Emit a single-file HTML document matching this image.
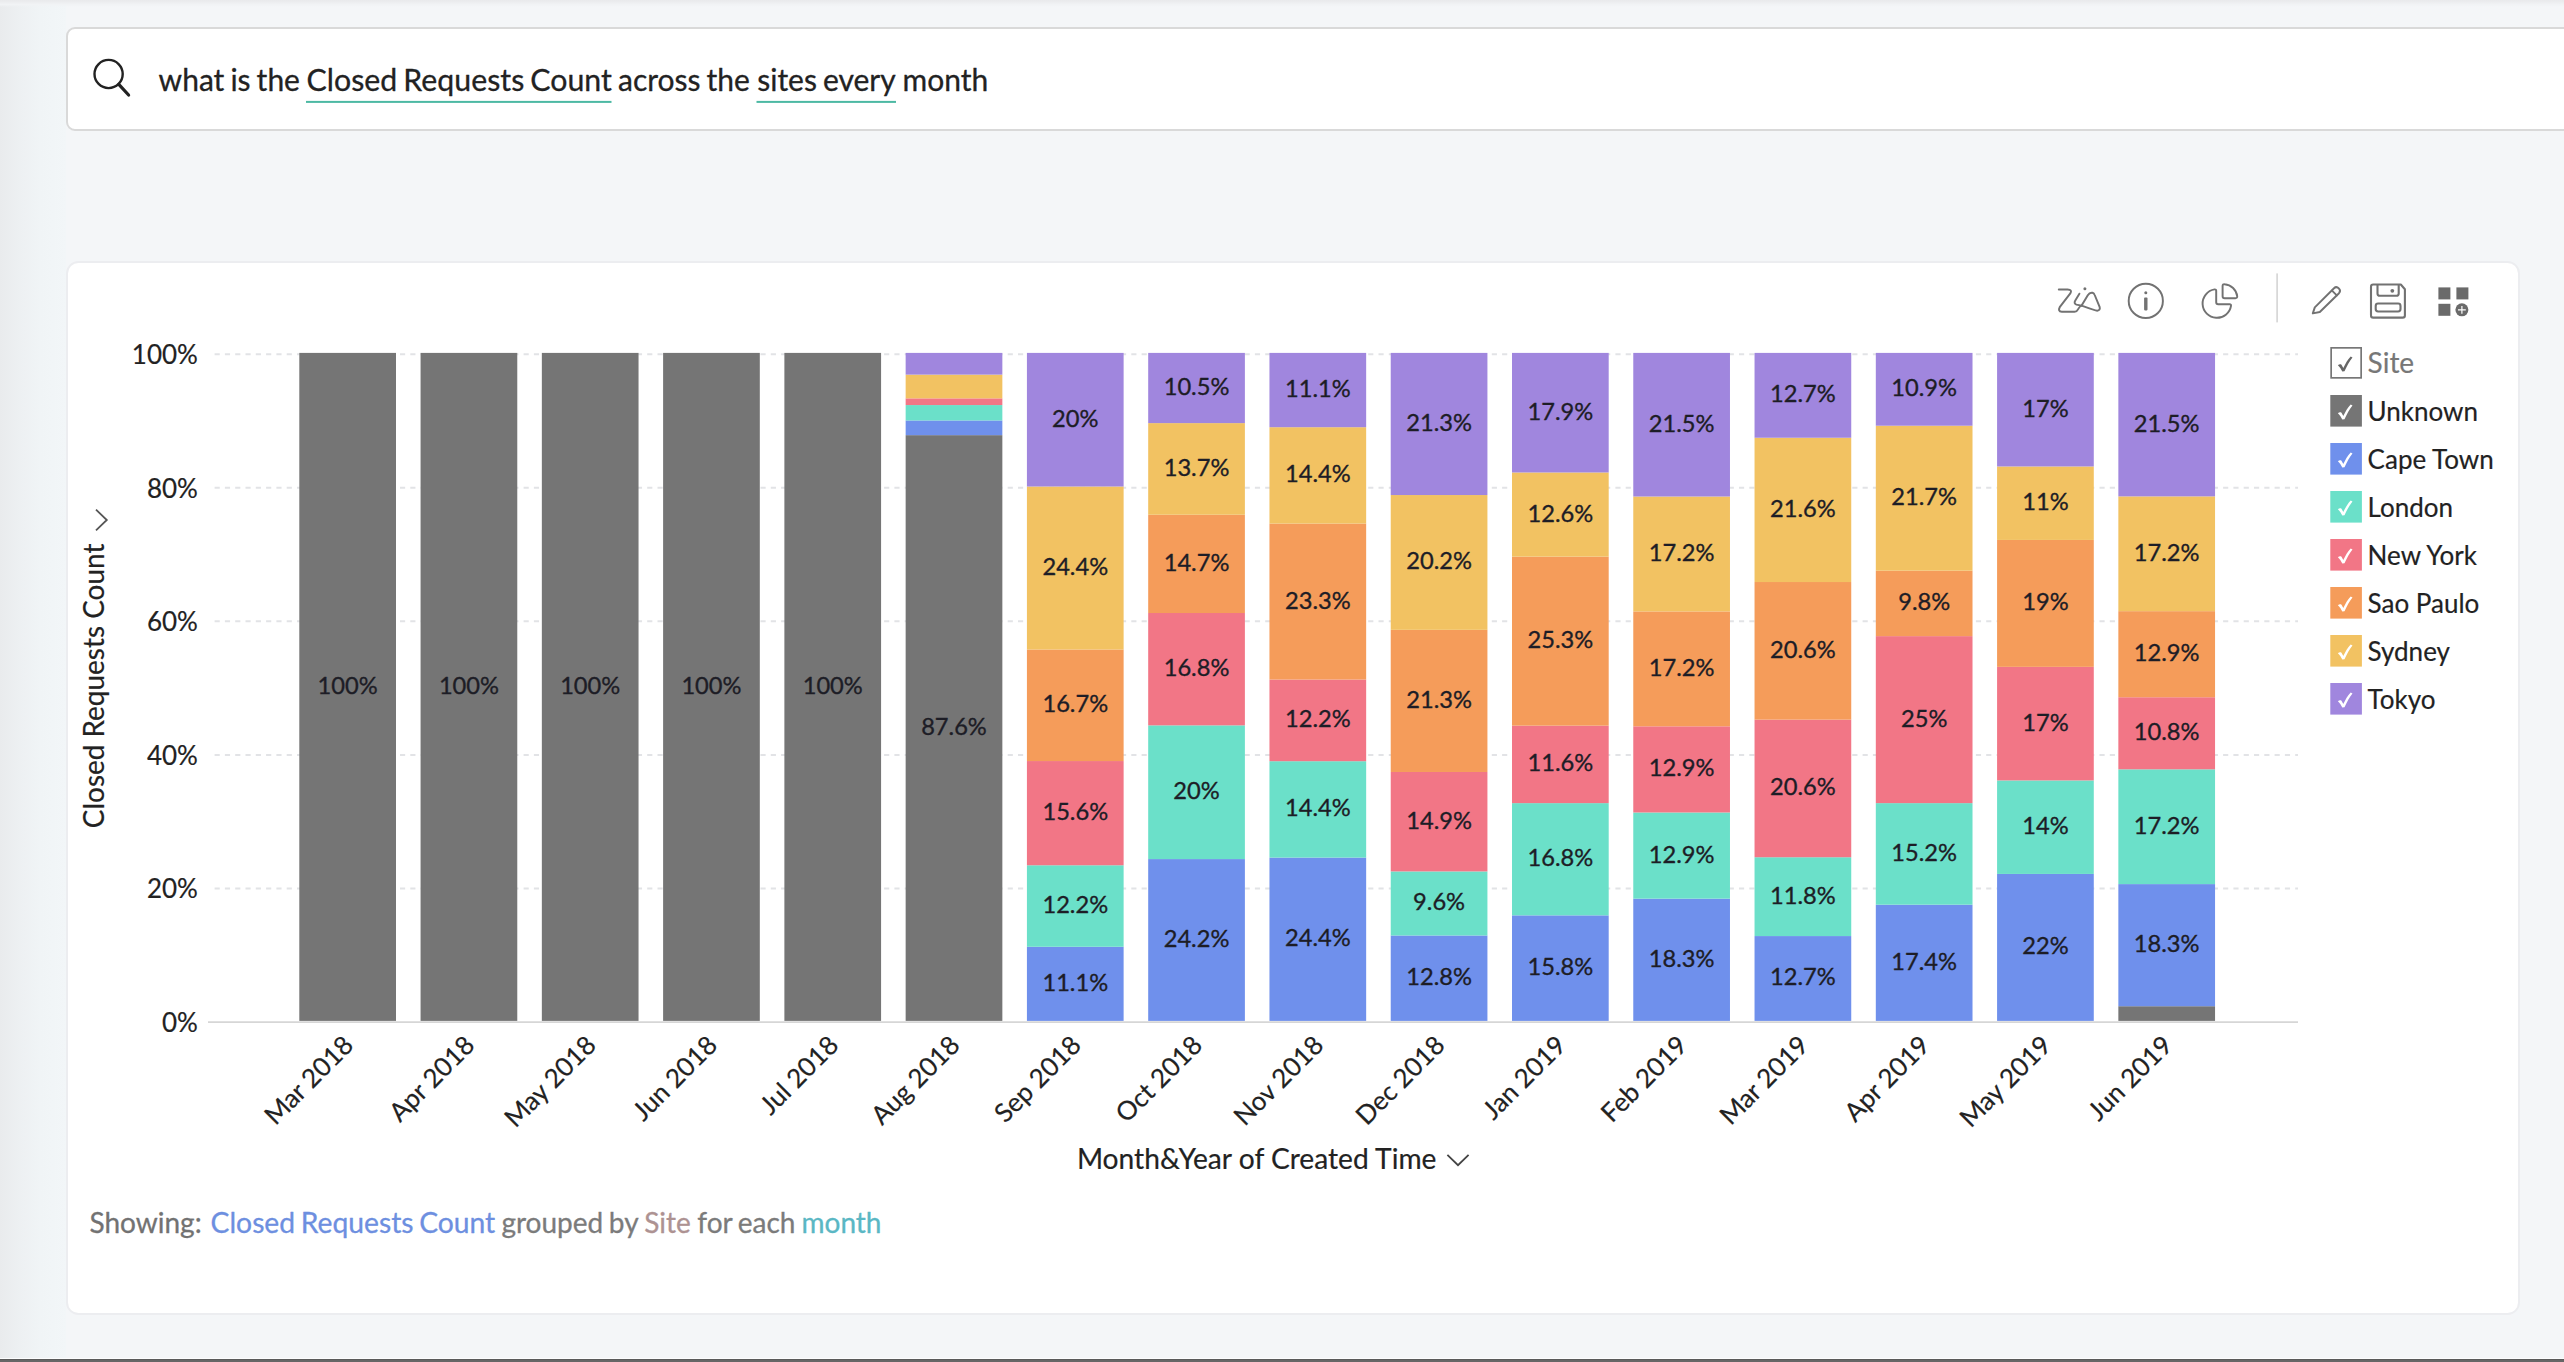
<!DOCTYPE html>
<html lang="en">
<head>
<meta charset="utf-8">
<title>Closed Requests Count across the sites every month</title>
<style>
html,body{margin:0;padding:0}
body{width:2564px;height:1362px;overflow:hidden;position:relative;background:#f4f6f8;font-family:Lato, "Liberation Sans", sans-serif}
.shade-left{position:absolute;left:0;top:0;width:66px;height:1358px;background:linear-gradient(90deg,#e9ebed 0px,#edf0f2 20px,#f0f4f6 40px,#f2f6f8 66px)}
.shade-top{position:absolute;left:0;top:0;width:2564px;height:7px;background:linear-gradient(180deg,#e9eaec 0px,#ecedef 2px,#f1f3f5 4.5px,rgba(244,246,248,0) 7px)}
.search{position:absolute;left:65.6px;top:27px;width:2600px;height:100px;background:#fff;border:2px solid #d9d9d9;border-radius:9px}
.card{position:absolute;left:65.8px;top:261px;width:2454.2px;height:1054px;background:#fff;border:2px solid #ecedf0;border-radius:12.5px;box-sizing:border-box}
.bottom{position:absolute;left:0;top:1357.7px;width:2564px;height:1.3px;background:#fdfdfe}
.bottom2{position:absolute;left:0;top:1359px;width:2564px;height:3px;background:linear-gradient(180deg,#5a5a5a 0px,#5a5a5a 1px,#666 1px,#666 3px)}
svg{position:absolute;left:0;top:0}
svg text{font-family:Lato, "Liberation Sans", sans-serif;white-space:pre;stroke-width:0.18px;stroke-linejoin:round}
svg text.dl{stroke-width:0.35px}
svg text.ht{word-spacing:-0.055em;stroke-width:0.3px}
</style>
</head>
<body>
<div class="shade-left"></div>
<div class="shade-top"></div>
<div class="search"></div>
<div class="card"></div>
<svg width="2564" height="1362" viewBox="0 0 2564 1362">
<g class="chart" role="img" aria-label="Closed Requests Count by Site for each month (100% stacked bar)">
<g stroke="#e2e3e6" stroke-width="2" stroke-dasharray="5.15 5.15" fill="none">
<line x1="214.6" y1="888.44" x2="2298" y2="888.44"/>
<line x1="214.6" y1="754.88" x2="2298" y2="754.88"/>
<line x1="214.6" y1="621.32" x2="2298" y2="621.32"/>
<line x1="214.6" y1="487.76" x2="2298" y2="487.76"/>
<line x1="214.6" y1="354.20" x2="2298" y2="354.20"/>
</g>
<g shape-rendering="auto">
<rect x="299.30" y="352.90" width="96.70" height="668.00" fill="#757575"/>
<rect x="420.57" y="352.90" width="96.70" height="668.00" fill="#757575"/>
<rect x="541.84" y="352.90" width="96.70" height="668.00" fill="#757575"/>
<rect x="663.11" y="352.90" width="96.70" height="668.00" fill="#757575"/>
<rect x="784.38" y="352.90" width="96.70" height="668.00" fill="#757575"/>
<rect x="905.65" y="435.15" width="96.70" height="585.75" fill="#757575"/>
<rect x="905.65" y="420.44" width="96.70" height="14.71" fill="#6f90ec"/>
<rect x="905.65" y="405.06" width="96.70" height="15.38" fill="#6be0c9"/>
<rect x="905.65" y="398.37" width="96.70" height="6.69" fill="#f27686"/>
<rect x="905.65" y="374.63" width="96.70" height="23.74" fill="#f2c262"/>
<rect x="905.65" y="352.90" width="96.70" height="21.73" fill="#a086de"/>
<rect x="1026.92" y="946.75" width="96.70" height="74.15" fill="#6f90ec"/>
<rect x="1026.92" y="865.26" width="96.70" height="81.50" fill="#6be0c9"/>
<rect x="1026.92" y="761.05" width="96.70" height="104.21" fill="#f27686"/>
<rect x="1026.92" y="649.49" width="96.70" height="111.56" fill="#f59c5a"/>
<rect x="1026.92" y="486.50" width="96.70" height="162.99" fill="#f2c262"/>
<rect x="1026.92" y="352.90" width="96.70" height="133.60" fill="#a086de"/>
<rect x="1148.19" y="859.08" width="96.70" height="161.82" fill="#6f90ec"/>
<rect x="1148.19" y="725.35" width="96.70" height="133.73" fill="#6be0c9"/>
<rect x="1148.19" y="613.01" width="96.70" height="112.34" fill="#f27686"/>
<rect x="1148.19" y="514.72" width="96.70" height="98.29" fill="#f59c5a"/>
<rect x="1148.19" y="423.11" width="96.70" height="91.61" fill="#f2c262"/>
<rect x="1148.19" y="352.90" width="96.70" height="70.21" fill="#a086de"/>
<rect x="1269.46" y="857.58" width="96.70" height="163.32" fill="#6f90ec"/>
<rect x="1269.46" y="761.20" width="96.70" height="96.38" fill="#6be0c9"/>
<rect x="1269.46" y="679.54" width="96.70" height="81.66" fill="#f27686"/>
<rect x="1269.46" y="523.58" width="96.70" height="155.96" fill="#f59c5a"/>
<rect x="1269.46" y="427.20" width="96.70" height="96.38" fill="#f2c262"/>
<rect x="1269.46" y="352.90" width="96.70" height="74.30" fill="#a086de"/>
<rect x="1390.73" y="935.48" width="96.70" height="85.42" fill="#6f90ec"/>
<rect x="1390.73" y="871.42" width="96.70" height="64.06" fill="#6be0c9"/>
<rect x="1390.73" y="771.98" width="96.70" height="99.43" fill="#f27686"/>
<rect x="1390.73" y="629.84" width="96.70" height="142.14" fill="#f59c5a"/>
<rect x="1390.73" y="495.04" width="96.70" height="134.80" fill="#f2c262"/>
<rect x="1390.73" y="352.90" width="96.70" height="142.14" fill="#a086de"/>
<rect x="1512.00" y="915.36" width="96.70" height="105.54" fill="#6f90ec"/>
<rect x="1512.00" y="803.13" width="96.70" height="112.22" fill="#6be0c9"/>
<rect x="1512.00" y="725.64" width="96.70" height="77.49" fill="#f27686"/>
<rect x="1512.00" y="556.64" width="96.70" height="169.00" fill="#f59c5a"/>
<rect x="1512.00" y="472.47" width="96.70" height="84.17" fill="#f2c262"/>
<rect x="1512.00" y="352.90" width="96.70" height="119.57" fill="#a086de"/>
<rect x="1633.27" y="898.66" width="96.70" height="122.24" fill="#6f90ec"/>
<rect x="1633.27" y="812.48" width="96.70" height="86.17" fill="#6be0c9"/>
<rect x="1633.27" y="726.31" width="96.70" height="86.17" fill="#f27686"/>
<rect x="1633.27" y="611.42" width="96.70" height="114.90" fill="#f59c5a"/>
<rect x="1633.27" y="496.52" width="96.70" height="114.90" fill="#f2c262"/>
<rect x="1633.27" y="352.90" width="96.70" height="143.62" fill="#a086de"/>
<rect x="1754.54" y="936.06" width="96.70" height="84.84" fill="#6f90ec"/>
<rect x="1754.54" y="857.24" width="96.70" height="78.82" fill="#6be0c9"/>
<rect x="1754.54" y="719.63" width="96.70" height="137.61" fill="#f27686"/>
<rect x="1754.54" y="582.02" width="96.70" height="137.61" fill="#f59c5a"/>
<rect x="1754.54" y="437.74" width="96.70" height="144.29" fill="#f2c262"/>
<rect x="1754.54" y="352.90" width="96.70" height="84.84" fill="#a086de"/>
<rect x="1875.81" y="904.67" width="96.70" height="116.23" fill="#6f90ec"/>
<rect x="1875.81" y="803.13" width="96.70" height="101.54" fill="#6be0c9"/>
<rect x="1875.81" y="636.13" width="96.70" height="167.00" fill="#f27686"/>
<rect x="1875.81" y="570.67" width="96.70" height="65.46" fill="#f59c5a"/>
<rect x="1875.81" y="425.71" width="96.70" height="144.96" fill="#f2c262"/>
<rect x="1875.81" y="352.90" width="96.70" height="72.81" fill="#a086de"/>
<rect x="1997.08" y="873.94" width="96.70" height="146.96" fill="#6f90ec"/>
<rect x="1997.08" y="780.42" width="96.70" height="93.52" fill="#6be0c9"/>
<rect x="1997.08" y="666.86" width="96.70" height="113.56" fill="#f27686"/>
<rect x="1997.08" y="539.94" width="96.70" height="126.92" fill="#f59c5a"/>
<rect x="1997.08" y="466.46" width="96.70" height="73.48" fill="#f2c262"/>
<rect x="1997.08" y="352.90" width="96.70" height="113.56" fill="#a086de"/>
<rect x="2118.35" y="1006.22" width="96.70" height="14.68" fill="#757575"/>
<rect x="2118.35" y="884.10" width="96.70" height="122.12" fill="#6f90ec"/>
<rect x="2118.35" y="769.32" width="96.70" height="114.78" fill="#6be0c9"/>
<rect x="2118.35" y="697.24" width="96.70" height="72.07" fill="#f27686"/>
<rect x="2118.35" y="611.16" width="96.70" height="86.09" fill="#f59c5a"/>
<rect x="2118.35" y="496.38" width="96.70" height="114.78" fill="#f2c262"/>
<rect x="2118.35" y="352.90" width="96.70" height="143.48" fill="#a086de"/>
</g>
<line x1="208" y1="1022.20" x2="2298" y2="1022.20" stroke="#d6d6d6" stroke-width="1.8"/>
<g>
<text x="347.65" y="693.90" font-size="24" fill="#1d1d26" stroke="#1d1d26" text-anchor="middle" textLength="60.09" lengthAdjust="spacingAndGlyphs" class="dl">100%</text>
<text x="468.92" y="693.90" font-size="24" fill="#1d1d26" stroke="#1d1d26" text-anchor="middle" textLength="60.09" lengthAdjust="spacingAndGlyphs" class="dl">100%</text>
<text x="590.19" y="693.90" font-size="24" fill="#1d1d26" stroke="#1d1d26" text-anchor="middle" textLength="60.09" lengthAdjust="spacingAndGlyphs" class="dl">100%</text>
<text x="711.46" y="693.90" font-size="24" fill="#1d1d26" stroke="#1d1d26" text-anchor="middle" textLength="60.09" lengthAdjust="spacingAndGlyphs" class="dl">100%</text>
<text x="832.73" y="693.90" font-size="24" fill="#1d1d26" stroke="#1d1d26" text-anchor="middle" textLength="60.09" lengthAdjust="spacingAndGlyphs" class="dl">100%</text>
<text x="954.00" y="735.02" font-size="24" fill="#1d1d26" stroke="#1d1d26" text-anchor="middle" textLength="65.67" lengthAdjust="spacingAndGlyphs" class="dl">87.6%</text>
<text x="1075.27" y="990.83" font-size="24" fill="#1d1d26" stroke="#1d1d26" text-anchor="middle" textLength="65.67" lengthAdjust="spacingAndGlyphs" class="dl">11.1%</text>
<text x="1075.27" y="913.00" font-size="24" fill="#1d1d26" stroke="#1d1d26" text-anchor="middle" textLength="65.67" lengthAdjust="spacingAndGlyphs" class="dl">12.2%</text>
<text x="1075.27" y="820.15" font-size="24" fill="#1d1d26" stroke="#1d1d26" text-anchor="middle" textLength="65.67" lengthAdjust="spacingAndGlyphs" class="dl">15.6%</text>
<text x="1075.27" y="712.27" font-size="24" fill="#1d1d26" stroke="#1d1d26" text-anchor="middle" textLength="65.67" lengthAdjust="spacingAndGlyphs" class="dl">16.7%</text>
<text x="1075.27" y="575.00" font-size="24" fill="#1d1d26" stroke="#1d1d26" text-anchor="middle" textLength="65.67" lengthAdjust="spacingAndGlyphs" class="dl">24.4%</text>
<text x="1075.27" y="426.70" font-size="24" fill="#1d1d26" stroke="#1d1d26" text-anchor="middle" textLength="46.37" lengthAdjust="spacingAndGlyphs" class="dl">20%</text>
<text x="1196.54" y="946.99" font-size="24" fill="#1d1d26" stroke="#1d1d26" text-anchor="middle" textLength="65.67" lengthAdjust="spacingAndGlyphs" class="dl">24.2%</text>
<text x="1196.54" y="799.22" font-size="24" fill="#1d1d26" stroke="#1d1d26" text-anchor="middle" textLength="46.37" lengthAdjust="spacingAndGlyphs" class="dl">20%</text>
<text x="1196.54" y="676.18" font-size="24" fill="#1d1d26" stroke="#1d1d26" text-anchor="middle" textLength="65.67" lengthAdjust="spacingAndGlyphs" class="dl">16.8%</text>
<text x="1196.54" y="570.86" font-size="24" fill="#1d1d26" stroke="#1d1d26" text-anchor="middle" textLength="65.67" lengthAdjust="spacingAndGlyphs" class="dl">14.7%</text>
<text x="1196.54" y="475.91" font-size="24" fill="#1d1d26" stroke="#1d1d26" text-anchor="middle" textLength="65.67" lengthAdjust="spacingAndGlyphs" class="dl">13.7%</text>
<text x="1196.54" y="395.01" font-size="24" fill="#1d1d26" stroke="#1d1d26" text-anchor="middle" textLength="65.67" lengthAdjust="spacingAndGlyphs" class="dl">10.5%</text>
<text x="1317.81" y="946.24" font-size="24" fill="#1d1d26" stroke="#1d1d26" text-anchor="middle" textLength="65.67" lengthAdjust="spacingAndGlyphs" class="dl">24.4%</text>
<text x="1317.81" y="816.39" font-size="24" fill="#1d1d26" stroke="#1d1d26" text-anchor="middle" textLength="65.67" lengthAdjust="spacingAndGlyphs" class="dl">14.4%</text>
<text x="1317.81" y="727.37" font-size="24" fill="#1d1d26" stroke="#1d1d26" text-anchor="middle" textLength="65.67" lengthAdjust="spacingAndGlyphs" class="dl">12.2%</text>
<text x="1317.81" y="608.56" font-size="24" fill="#1d1d26" stroke="#1d1d26" text-anchor="middle" textLength="65.67" lengthAdjust="spacingAndGlyphs" class="dl">23.3%</text>
<text x="1317.81" y="482.39" font-size="24" fill="#1d1d26" stroke="#1d1d26" text-anchor="middle" textLength="65.67" lengthAdjust="spacingAndGlyphs" class="dl">14.4%</text>
<text x="1317.81" y="397.05" font-size="24" fill="#1d1d26" stroke="#1d1d26" text-anchor="middle" textLength="65.67" lengthAdjust="spacingAndGlyphs" class="dl">11.1%</text>
<text x="1439.08" y="985.19" font-size="24" fill="#1d1d26" stroke="#1d1d26" text-anchor="middle" textLength="65.67" lengthAdjust="spacingAndGlyphs" class="dl">12.8%</text>
<text x="1439.08" y="910.45" font-size="24" fill="#1d1d26" stroke="#1d1d26" text-anchor="middle" textLength="51.96" lengthAdjust="spacingAndGlyphs" class="dl">9.6%</text>
<text x="1439.08" y="828.70" font-size="24" fill="#1d1d26" stroke="#1d1d26" text-anchor="middle" textLength="65.67" lengthAdjust="spacingAndGlyphs" class="dl">14.9%</text>
<text x="1439.08" y="707.91" font-size="24" fill="#1d1d26" stroke="#1d1d26" text-anchor="middle" textLength="65.67" lengthAdjust="spacingAndGlyphs" class="dl">21.3%</text>
<text x="1439.08" y="569.44" font-size="24" fill="#1d1d26" stroke="#1d1d26" text-anchor="middle" textLength="65.67" lengthAdjust="spacingAndGlyphs" class="dl">20.2%</text>
<text x="1439.08" y="430.97" font-size="24" fill="#1d1d26" stroke="#1d1d26" text-anchor="middle" textLength="65.67" lengthAdjust="spacingAndGlyphs" class="dl">21.3%</text>
<text x="1560.35" y="975.13" font-size="24" fill="#1d1d26" stroke="#1d1d26" text-anchor="middle" textLength="65.67" lengthAdjust="spacingAndGlyphs" class="dl">15.8%</text>
<text x="1560.35" y="866.24" font-size="24" fill="#1d1d26" stroke="#1d1d26" text-anchor="middle" textLength="65.67" lengthAdjust="spacingAndGlyphs" class="dl">16.8%</text>
<text x="1560.35" y="771.39" font-size="24" fill="#1d1d26" stroke="#1d1d26" text-anchor="middle" textLength="65.67" lengthAdjust="spacingAndGlyphs" class="dl">11.6%</text>
<text x="1560.35" y="648.14" font-size="24" fill="#1d1d26" stroke="#1d1d26" text-anchor="middle" textLength="65.67" lengthAdjust="spacingAndGlyphs" class="dl">25.3%</text>
<text x="1560.35" y="521.56" font-size="24" fill="#1d1d26" stroke="#1d1d26" text-anchor="middle" textLength="65.67" lengthAdjust="spacingAndGlyphs" class="dl">12.6%</text>
<text x="1560.35" y="419.69" font-size="24" fill="#1d1d26" stroke="#1d1d26" text-anchor="middle" textLength="65.67" lengthAdjust="spacingAndGlyphs" class="dl">17.9%</text>
<text x="1681.62" y="966.78" font-size="24" fill="#1d1d26" stroke="#1d1d26" text-anchor="middle" textLength="65.67" lengthAdjust="spacingAndGlyphs" class="dl">18.3%</text>
<text x="1681.62" y="862.57" font-size="24" fill="#1d1d26" stroke="#1d1d26" text-anchor="middle" textLength="65.67" lengthAdjust="spacingAndGlyphs" class="dl">12.9%</text>
<text x="1681.62" y="776.40" font-size="24" fill="#1d1d26" stroke="#1d1d26" text-anchor="middle" textLength="65.67" lengthAdjust="spacingAndGlyphs" class="dl">12.9%</text>
<text x="1681.62" y="675.86" font-size="24" fill="#1d1d26" stroke="#1d1d26" text-anchor="middle" textLength="65.67" lengthAdjust="spacingAndGlyphs" class="dl">17.2%</text>
<text x="1681.62" y="560.97" font-size="24" fill="#1d1d26" stroke="#1d1d26" text-anchor="middle" textLength="65.67" lengthAdjust="spacingAndGlyphs" class="dl">17.2%</text>
<text x="1681.62" y="431.71" font-size="24" fill="#1d1d26" stroke="#1d1d26" text-anchor="middle" textLength="65.67" lengthAdjust="spacingAndGlyphs" class="dl">21.5%</text>
<text x="1802.89" y="985.48" font-size="24" fill="#1d1d26" stroke="#1d1d26" text-anchor="middle" textLength="65.67" lengthAdjust="spacingAndGlyphs" class="dl">12.7%</text>
<text x="1802.89" y="903.65" font-size="24" fill="#1d1d26" stroke="#1d1d26" text-anchor="middle" textLength="65.67" lengthAdjust="spacingAndGlyphs" class="dl">11.8%</text>
<text x="1802.89" y="795.44" font-size="24" fill="#1d1d26" stroke="#1d1d26" text-anchor="middle" textLength="65.67" lengthAdjust="spacingAndGlyphs" class="dl">20.6%</text>
<text x="1802.89" y="657.83" font-size="24" fill="#1d1d26" stroke="#1d1d26" text-anchor="middle" textLength="65.67" lengthAdjust="spacingAndGlyphs" class="dl">20.6%</text>
<text x="1802.89" y="516.88" font-size="24" fill="#1d1d26" stroke="#1d1d26" text-anchor="middle" textLength="65.67" lengthAdjust="spacingAndGlyphs" class="dl">21.6%</text>
<text x="1802.89" y="402.32" font-size="24" fill="#1d1d26" stroke="#1d1d26" text-anchor="middle" textLength="65.67" lengthAdjust="spacingAndGlyphs" class="dl">12.7%</text>
<text x="1924.16" y="969.78" font-size="24" fill="#1d1d26" stroke="#1d1d26" text-anchor="middle" textLength="65.67" lengthAdjust="spacingAndGlyphs" class="dl">17.4%</text>
<text x="1924.16" y="860.90" font-size="24" fill="#1d1d26" stroke="#1d1d26" text-anchor="middle" textLength="65.67" lengthAdjust="spacingAndGlyphs" class="dl">15.2%</text>
<text x="1924.16" y="726.63" font-size="24" fill="#1d1d26" stroke="#1d1d26" text-anchor="middle" textLength="46.37" lengthAdjust="spacingAndGlyphs" class="dl">25%</text>
<text x="1924.16" y="610.40" font-size="24" fill="#1d1d26" stroke="#1d1d26" text-anchor="middle" textLength="51.96" lengthAdjust="spacingAndGlyphs" class="dl">9.8%</text>
<text x="1924.16" y="505.19" font-size="24" fill="#1d1d26" stroke="#1d1d26" text-anchor="middle" textLength="65.67" lengthAdjust="spacingAndGlyphs" class="dl">21.7%</text>
<text x="1924.16" y="396.31" font-size="24" fill="#1d1d26" stroke="#1d1d26" text-anchor="middle" textLength="65.67" lengthAdjust="spacingAndGlyphs" class="dl">10.9%</text>
<text x="2045.43" y="954.42" font-size="24" fill="#1d1d26" stroke="#1d1d26" text-anchor="middle" textLength="46.37" lengthAdjust="spacingAndGlyphs" class="dl">22%</text>
<text x="2045.43" y="834.18" font-size="24" fill="#1d1d26" stroke="#1d1d26" text-anchor="middle" textLength="46.37" lengthAdjust="spacingAndGlyphs" class="dl">14%</text>
<text x="2045.43" y="730.64" font-size="24" fill="#1d1d26" stroke="#1d1d26" text-anchor="middle" textLength="46.37" lengthAdjust="spacingAndGlyphs" class="dl">17%</text>
<text x="2045.43" y="610.40" font-size="24" fill="#1d1d26" stroke="#1d1d26" text-anchor="middle" textLength="46.37" lengthAdjust="spacingAndGlyphs" class="dl">19%</text>
<text x="2045.43" y="510.20" font-size="24" fill="#1d1d26" stroke="#1d1d26" text-anchor="middle" textLength="46.37" lengthAdjust="spacingAndGlyphs" class="dl">11%</text>
<text x="2045.43" y="416.68" font-size="24" fill="#1d1d26" stroke="#1d1d26" text-anchor="middle" textLength="46.37" lengthAdjust="spacingAndGlyphs" class="dl">17%</text>
<text x="2166.70" y="952.16" font-size="24" fill="#1d1d26" stroke="#1d1d26" text-anchor="middle" textLength="65.67" lengthAdjust="spacingAndGlyphs" class="dl">18.3%</text>
<text x="2166.70" y="833.71" font-size="24" fill="#1d1d26" stroke="#1d1d26" text-anchor="middle" textLength="65.67" lengthAdjust="spacingAndGlyphs" class="dl">17.2%</text>
<text x="2166.70" y="740.28" font-size="24" fill="#1d1d26" stroke="#1d1d26" text-anchor="middle" textLength="65.67" lengthAdjust="spacingAndGlyphs" class="dl">10.8%</text>
<text x="2166.70" y="661.20" font-size="24" fill="#1d1d26" stroke="#1d1d26" text-anchor="middle" textLength="65.67" lengthAdjust="spacingAndGlyphs" class="dl">12.9%</text>
<text x="2166.70" y="560.77" font-size="24" fill="#1d1d26" stroke="#1d1d26" text-anchor="middle" textLength="65.67" lengthAdjust="spacingAndGlyphs" class="dl">17.2%</text>
<text x="2166.70" y="431.64" font-size="24" fill="#1d1d26" stroke="#1d1d26" text-anchor="middle" textLength="65.67" lengthAdjust="spacingAndGlyphs" class="dl">21.5%</text>
</g>
<g>
<text x="197.90" y="1031.80" font-size="26" fill="#222" stroke="#222" text-anchor="end" textLength="35.92" lengthAdjust="spacingAndGlyphs">0%</text>
<text x="197.90" y="898.24" font-size="26" fill="#222" stroke="#222" text-anchor="end" textLength="51.00" lengthAdjust="spacingAndGlyphs">20%</text>
<text x="197.90" y="764.68" font-size="26" fill="#222" stroke="#222" text-anchor="end" textLength="51.00" lengthAdjust="spacingAndGlyphs">40%</text>
<text x="197.90" y="631.12" font-size="26" fill="#222" stroke="#222" text-anchor="end" textLength="51.00" lengthAdjust="spacingAndGlyphs">60%</text>
<text x="197.90" y="497.56" font-size="26" fill="#222" stroke="#222" text-anchor="end" textLength="51.00" lengthAdjust="spacingAndGlyphs">80%</text>
<text x="197.90" y="364.00" font-size="26" fill="#222" stroke="#222" text-anchor="end" textLength="66.09" lengthAdjust="spacingAndGlyphs">100%</text>
</g>
<g>
<g transform="translate(348.65 1040.4) rotate(-45)"><text x="0.00" y="9.00" font-size="26" fill="#222" stroke="#222" text-anchor="end" textLength="112.58" lengthAdjust="spacingAndGlyphs">Mar 2018</text></g>
<g transform="translate(469.92 1040.4) rotate(-45)"><text x="0.00" y="9.00" font-size="26" fill="#222" stroke="#222" text-anchor="end" textLength="108.03" lengthAdjust="spacingAndGlyphs">Apr 2018</text></g>
<g transform="translate(591.19 1040.4) rotate(-45)"><text x="0.00" y="9.00" font-size="26" fill="#222" stroke="#222" text-anchor="end" textLength="116.11" lengthAdjust="spacingAndGlyphs">May 2018</text></g>
<g transform="translate(712.46 1040.4) rotate(-45)"><text x="0.00" y="9.00" font-size="26" fill="#222" stroke="#222" text-anchor="end" textLength="106.61" lengthAdjust="spacingAndGlyphs">Jun 2018</text></g>
<g transform="translate(833.73 1040.4) rotate(-45)"><text x="0.00" y="9.00" font-size="26" fill="#222" stroke="#222" text-anchor="end" textLength="98.23" lengthAdjust="spacingAndGlyphs">Jul 2018</text></g>
<g transform="translate(955.00 1040.4) rotate(-45)"><text x="0.00" y="9.00" font-size="26" fill="#222" stroke="#222" text-anchor="end" textLength="112.28" lengthAdjust="spacingAndGlyphs">Aug 2018</text></g>
<g transform="translate(1076.27 1040.4) rotate(-45)"><text x="0.00" y="9.00" font-size="26" fill="#222" stroke="#222" text-anchor="end" textLength="109.31" lengthAdjust="spacingAndGlyphs">Sep 2018</text></g>
<g transform="translate(1197.54 1040.4) rotate(-45)"><text x="0.00" y="9.00" font-size="26" fill="#222" stroke="#222" text-anchor="end" textLength="109.36" lengthAdjust="spacingAndGlyphs">Oct 2018</text></g>
<g transform="translate(1318.81 1040.4) rotate(-45)"><text x="0.00" y="9.00" font-size="26" fill="#222" stroke="#222" text-anchor="end" textLength="113.61" lengthAdjust="spacingAndGlyphs">Nov 2018</text></g>
<g transform="translate(1440.08 1040.4) rotate(-45)"><text x="0.00" y="9.00" font-size="26" fill="#222" stroke="#222" text-anchor="end" textLength="112.72" lengthAdjust="spacingAndGlyphs">Dec 2018</text></g>
<g transform="translate(1561.35 1040.4) rotate(-45)"><text x="0.00" y="9.00" font-size="26" fill="#222" stroke="#222" text-anchor="end" textLength="104.88" lengthAdjust="spacingAndGlyphs">Jan 2019</text></g>
<g transform="translate(1682.62 1040.4) rotate(-45)"><text x="0.00" y="9.00" font-size="26" fill="#222" stroke="#222" text-anchor="end" textLength="108.84" lengthAdjust="spacingAndGlyphs">Feb 2019</text></g>
<g transform="translate(1803.89 1040.4) rotate(-45)"><text x="0.00" y="9.00" font-size="26" fill="#222" stroke="#222" text-anchor="end" textLength="112.58" lengthAdjust="spacingAndGlyphs">Mar 2019</text></g>
<g transform="translate(1925.16 1040.4) rotate(-45)"><text x="0.00" y="9.00" font-size="26" fill="#222" stroke="#222" text-anchor="end" textLength="108.03" lengthAdjust="spacingAndGlyphs">Apr 2019</text></g>
<g transform="translate(2046.43 1040.4) rotate(-45)"><text x="0.00" y="9.00" font-size="26" fill="#222" stroke="#222" text-anchor="end" textLength="116.11" lengthAdjust="spacingAndGlyphs">May 2019</text></g>
<g transform="translate(2167.70 1040.4) rotate(-45)"><text x="0.00" y="9.00" font-size="26" fill="#222" stroke="#222" text-anchor="end" textLength="106.61" lengthAdjust="spacingAndGlyphs">Jun 2019</text></g>
</g>
<text x="1076.90" y="1168.70" font-size="28" fill="#222" stroke="#222" text-anchor="start" textLength="359.60" lengthAdjust="spacingAndGlyphs">Month&amp;Year of Created Time</text>
<path d="M1447.4 1154.8 L1458 1165.2 L1468.6 1154.8" fill="none" stroke="#444" stroke-width="1.8"/>
<g transform="translate(104.4 828.2) rotate(-90)"><text x="0.00" y="0.00" font-size="28" fill="#222" stroke="#222" text-anchor="start" textLength="284.60" lengthAdjust="spacingAndGlyphs">Closed Requests Count</text></g>
<path d="M96 509.6 L106.8 520 L96 530.4" fill="none" stroke="#555" stroke-width="1.8"/>
</g>
<g class="legend">
<rect x="2331.15" y="347.85" width="30" height="30" fill="#fff" stroke="#777" stroke-width="1.7"/>
<path transform="translate(2337.90 356.60)" d="M0.0 8.6 C1.2 7.5 2.6 7.3 3.6 8.1 C4.3 9.2 4.9 10.3 5.4 11.5 C7.4 7.0 9.8 3.0 12.8 -0.2 L14.6 0.8 C11.6 4.8 9.0 9.2 6.6 14.6 L4.4 15.0 C3.4 12.6 2.0 10.4 0.0 8.6 Z" fill="#666"/>
<text x="2367.60" y="372.70" font-size="28" fill="#777" stroke="#777" text-anchor="start" textLength="46.55" lengthAdjust="spacingAndGlyphs">Site</text>
<rect x="2330.30" y="395.00" width="31.6" height="31.6" fill="#757575"/>
<path transform="translate(2337.90 404.60)" d="M0.0 8.6 C1.2 7.5 2.6 7.3 3.6 8.1 C4.3 9.2 4.9 10.3 5.4 11.5 C7.4 7.0 9.8 3.0 12.8 -0.2 L14.6 0.8 C11.6 4.8 9.0 9.2 6.6 14.6 L4.4 15.0 C3.4 12.6 2.0 10.4 0.0 8.6 Z" fill="#fff"/>
<text x="2367.60" y="420.70" font-size="26" fill="#222" stroke="#222" text-anchor="start" textLength="110.44" lengthAdjust="spacingAndGlyphs">Unknown</text>
<rect x="2330.30" y="443.00" width="31.6" height="31.6" fill="#6f90ec"/>
<path transform="translate(2337.90 452.60)" d="M0.0 8.6 C1.2 7.5 2.6 7.3 3.6 8.1 C4.3 9.2 4.9 10.3 5.4 11.5 C7.4 7.0 9.8 3.0 12.8 -0.2 L14.6 0.8 C11.6 4.8 9.0 9.2 6.6 14.6 L4.4 15.0 C3.4 12.6 2.0 10.4 0.0 8.6 Z" fill="#fff"/>
<text x="2367.60" y="468.70" font-size="26" fill="#222" stroke="#222" text-anchor="start" textLength="126.14" lengthAdjust="spacingAndGlyphs">Cape Town</text>
<rect x="2330.30" y="491.00" width="31.6" height="31.6" fill="#6be0c9"/>
<path transform="translate(2337.90 500.60)" d="M0.0 8.6 C1.2 7.5 2.6 7.3 3.6 8.1 C4.3 9.2 4.9 10.3 5.4 11.5 C7.4 7.0 9.8 3.0 12.8 -0.2 L14.6 0.8 C11.6 4.8 9.0 9.2 6.6 14.6 L4.4 15.0 C3.4 12.6 2.0 10.4 0.0 8.6 Z" fill="#fff"/>
<text x="2367.60" y="516.70" font-size="26" fill="#222" stroke="#222" text-anchor="start" textLength="85.47" lengthAdjust="spacingAndGlyphs">London</text>
<rect x="2330.30" y="539.00" width="31.6" height="31.6" fill="#f27686"/>
<path transform="translate(2337.90 548.60)" d="M0.0 8.6 C1.2 7.5 2.6 7.3 3.6 8.1 C4.3 9.2 4.9 10.3 5.4 11.5 C7.4 7.0 9.8 3.0 12.8 -0.2 L14.6 0.8 C11.6 4.8 9.0 9.2 6.6 14.6 L4.4 15.0 C3.4 12.6 2.0 10.4 0.0 8.6 Z" fill="#fff"/>
<text x="2367.60" y="564.70" font-size="26" fill="#222" stroke="#222" text-anchor="start" textLength="109.38" lengthAdjust="spacingAndGlyphs">New York</text>
<rect x="2330.30" y="587.00" width="31.6" height="31.6" fill="#f59c5a"/>
<path transform="translate(2337.90 596.60)" d="M0.0 8.6 C1.2 7.5 2.6 7.3 3.6 8.1 C4.3 9.2 4.9 10.3 5.4 11.5 C7.4 7.0 9.8 3.0 12.8 -0.2 L14.6 0.8 C11.6 4.8 9.0 9.2 6.6 14.6 L4.4 15.0 C3.4 12.6 2.0 10.4 0.0 8.6 Z" fill="#fff"/>
<text x="2367.60" y="612.70" font-size="26" fill="#222" stroke="#222" text-anchor="start" textLength="111.75" lengthAdjust="spacingAndGlyphs">Sao Paulo</text>
<rect x="2330.30" y="635.00" width="31.6" height="31.6" fill="#f2c262"/>
<path transform="translate(2337.90 644.60)" d="M0.0 8.6 C1.2 7.5 2.6 7.3 3.6 8.1 C4.3 9.2 4.9 10.3 5.4 11.5 C7.4 7.0 9.8 3.0 12.8 -0.2 L14.6 0.8 C11.6 4.8 9.0 9.2 6.6 14.6 L4.4 15.0 C3.4 12.6 2.0 10.4 0.0 8.6 Z" fill="#fff"/>
<text x="2367.60" y="660.70" font-size="26" fill="#222" stroke="#222" text-anchor="start" textLength="82.34" lengthAdjust="spacingAndGlyphs">Sydney</text>
<rect x="2330.30" y="683.00" width="31.6" height="31.6" fill="#a086de"/>
<path transform="translate(2337.90 692.60)" d="M0.0 8.6 C1.2 7.5 2.6 7.3 3.6 8.1 C4.3 9.2 4.9 10.3 5.4 11.5 C7.4 7.0 9.8 3.0 12.8 -0.2 L14.6 0.8 C11.6 4.8 9.0 9.2 6.6 14.6 L4.4 15.0 C3.4 12.6 2.0 10.4 0.0 8.6 Z" fill="#fff"/>
<text x="2367.60" y="708.70" font-size="26" fill="#222" stroke="#222" text-anchor="start" textLength="67.92" lengthAdjust="spacingAndGlyphs">Tokyo</text>
</g>
<g class="showing">
<text x="89.50" y="1233.30" font-size="28" fill="#727272" stroke="#727272" text-anchor="start" textLength="112.14" lengthAdjust="spacingAndGlyphs" class="ht">Showing:</text>
<text x="210.60" y="1233.30" font-size="28" fill="#6d8fe0" stroke="#6d8fe0" text-anchor="start" textLength="284.60" lengthAdjust="spacingAndGlyphs" class="ht">Closed Requests Count</text>
<text x="501.40" y="1233.30" font-size="28" fill="#7b7b7b" stroke="#7b7b7b" text-anchor="start" textLength="137.20" lengthAdjust="spacingAndGlyphs" class="ht">grouped by</text>
<text x="644.20" y="1233.30" font-size="28" fill="#ad9292" stroke="#ad9292" text-anchor="start" textLength="46.55" lengthAdjust="spacingAndGlyphs" class="ht">Site</text>
<text x="697.30" y="1233.30" font-size="28" fill="#7b7b7b" stroke="#7b7b7b" text-anchor="start" textLength="98.16" lengthAdjust="spacingAndGlyphs" class="ht">for each</text>
<text x="801.50" y="1233.30" font-size="28" fill="#5ab7c4" stroke="#5ab7c4" text-anchor="start" textLength="80.00" lengthAdjust="spacingAndGlyphs" class="ht">month</text>
</g>
<g class="search-query">
<circle cx="108.6" cy="74" r="14.1" fill="none" stroke="#222" stroke-width="2.4"/>
<path d="M118.8 84.4 L128.6 95" fill="none" stroke="#222" stroke-width="3.2" stroke-linecap="round"/>
<text x="158.60" y="91.30" font-size="30" fill="#222" stroke="#222" text-anchor="start" textLength="141.38" lengthAdjust="spacingAndGlyphs" class="ht">what is the</text>
<text x="306.60" y="91.30" font-size="30" fill="#222" stroke="#222" text-anchor="start" textLength="305.30" lengthAdjust="spacingAndGlyphs" class="ht">Closed Requests Count</text>
<text x="618.00" y="91.30" font-size="30" fill="#222" stroke="#222" text-anchor="start" textLength="131.91" lengthAdjust="spacingAndGlyphs" class="ht">across the</text>
<text x="757.20" y="91.30" font-size="30" fill="#222" stroke="#222" text-anchor="start" textLength="138.53" lengthAdjust="spacingAndGlyphs" class="ht">sites every</text>
<text x="902.60" y="91.30" font-size="30" fill="#222" stroke="#222" text-anchor="start" textLength="85.72" lengthAdjust="spacingAndGlyphs" class="ht">month</text>
<rect x="306" y="100.9" width="305.5" height="2" fill="#4cb9a3"/>
<rect x="756.5" y="100.9" width="139.5" height="2" fill="#4cb9a3"/>
</g>
<g class="toolbar">
<g fill="none" stroke="#727272" stroke-width="1.95" stroke-linecap="round" stroke-linejoin="round">
<path d="M2058.8 289.4 H2067.6 Q2072.6 289.5 2070.3 293.4 L2059.9 306.8 Q2057.5 311.5 2061.8 311.8 H2074.6 Q2076.8 311.8 2078 309.4 Q2079.4 306.6 2081.6 305.5"/>
<path d="M2079.4 293.7 L2075.3 300.4 Q2073.5 303.6 2076.4 304.6 L2081.6 305.6"/>
<path d="M2081.6 305.5 L2087.8 295.2 Q2089.6 292.3 2092.5 292.8 Q2094 293.2 2094.7 295 L2099.6 306.8 Q2100.6 310.4 2097.2 310.7 Q2095.4 310.6 2081.6 305.6 Z"/>
<circle cx="2145.8" cy="300.9" r="17.1"/>
<path d="M2214.6 289.4 A14.3 14.3 0 1 0 2231 305.8 Q2231.2 304.2 2229.6 304.2 H2218.2 Q2216.2 304.2 2216.2 302.2 V290.8 Q2216.2 289.2 2214.6 289.4 Z"/>
<path d="M2222.6 286 Q2222.6 284 2224.6 284.2 A13.6 13.6 0 0 1 2237.2 296.2 Q2237.4 298.2 2235.4 298.2 H2224.6 Q2222.6 298.2 2222.6 296.2 Z"/>
<path d="M2312.8 313.4 L2314.8 307.4 L2334 288.2 Q2336.4 286 2338.8 288.4 Q2341.2 290.8 2339 293.2 L2319.8 312 Z"/>
<path d="M2332 290.6 L2336.8 295.4"/>
<path d="M2373.2 284.5 H2400.8 L2404.9 289.2 V315.4 Q2404.9 317.6 2402.7 317.6 H2373.2 Q2371 317.6 2371 315.4 V286.7 Q2371 284.5 2373.2 284.5 Z" stroke-width="2.1"/>
<path d="M2377.5 285 V293.4 Q2377.5 295.8 2379.9 295.8 H2396.3 Q2398.7 295.8 2398.7 293.4 V285" stroke-width="2.1"/>
<rect x="2375.7" y="303.5" width="24.8" height="8" rx="2.4" stroke-width="2.1"/>
</g>
<circle cx="2145.8" cy="292.8" r="1.5" fill="#727272"/>
<circle cx="2084.9" cy="288.8" r="1.5" fill="#727272"/>
<rect x="2144.1" y="297.6" width="3.4" height="12.8" rx="0.8" fill="#727272"/>
<circle cx="2392.3" cy="290.8" r="1.9" fill="#727272"/>
<rect x="2276.3" y="273.4" width="1.6" height="49" fill="#d4d4d4"/>
<rect x="2438.4" y="287.4" width="12" height="12" fill="#6a6a6a"/>
<rect x="2456.4" y="287.4" width="12" height="12" fill="#6a6a6a"/>
<rect x="2438.4" y="303.8" width="12" height="12" fill="#6a6a6a"/>
<circle cx="2461.9" cy="309.8" r="6.5" fill="#6a6a6a"/>
<path d="M2458 309.8 H2465.8 M2461.9 305.9 V313.7" stroke="#fff" stroke-width="1.2" fill="none"/>
</g>
</svg>
<div class="bottom"></div>
<div class="bottom2"></div>
</body>
</html>
